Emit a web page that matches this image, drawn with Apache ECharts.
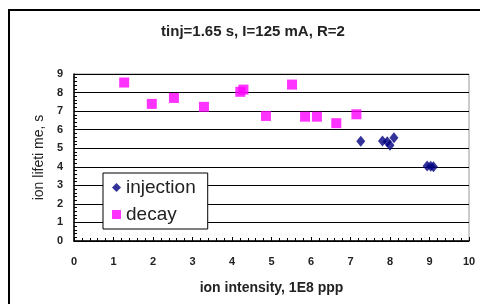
<!DOCTYPE html>
<html>
<head>
<meta charset="utf-8">
<script src="https://cdn.jsdelivr.net/npm/echarts@6/dist/echarts.min.js"></script>
<style>
  html, body { margin: 0; padding: 0; background: #fff; }
  #chart { width: 480px; height: 304px; }
</style>
</head>
<body>
<div id="chart"></div>
<script>
// values
var xTicks = [0, 1, 2, 3, 4, 5, 6, 7, 8, 9, 10]
var yTicks = [0, 1, 2, 3, 4, 5, 6, 7, 8, 9]

var injectionX = [7.26, 7.81, 7.93, 8.0, 8.1, 8.94, 9.03, 9.1]
var injectionY = [5.37, 5.39, 5.35, 5.16, 5.57, 4.04, 4.03, 4.0]

var decayX = [1.27, 1.97, 2.53, 3.29, 4.21, 4.29, 4.86, 5.52, 5.85, 6.15, 6.64, 7.15]
var decayY = [8.54, 7.39, 7.71, 7.23, 8.04, 8.16, 6.74, 8.43, 6.7, 6.7, 6.35, 6.83]

var zip = function (xs, ys) {
  return xs.map(function (x, i) { return [x, ys[i]] })
}

var myChart = echarts.init(document.getElementById('chart'))

var labelStyle = {
  fontFamily: 'Liberation Sans, Arial',
  fontSize: 11,
  fontWeight: 'bold',
  color: '#222'
}

var option = {
  animation: false,
  backgroundColor: '#fff',
  title: {
    text: 'tinj=1.65 s, I=125 mA, R=2',
    left: 248,
    top: 19,
    textAlign: 'center',
    textStyle: {
      fontFamily: 'Liberation Sans, Arial',
      fontSize: 15,
      fontWeight: 'bold',
      color: '#222'
    }
  },
  graphic: [
    {
      type: 'rect',
      shape: { x: 9, y: 10, width: 490, height: 310 },
      style: { fill: 'none', stroke: '#000', lineWidth: 2 },
      silent: true
    }
  ],
  grid: {
    left: 74,
    top: 74,
    width: 395,
    height: 167,
    show: true,
    borderColor: '#999',
    borderWidth: 1
  },
  legend: {
    orient: 'vertical',
    left: 103,
    top: 173,
    padding: [5, 12, 5, 9],
    itemGap: 8,
    itemWidth: 9,
    itemHeight: 9,
    backgroundColor: '#fff',
    borderColor: '#000',
    borderWidth: 1,
    textStyle: {
      fontFamily: 'Liberation Sans, Arial',
      fontSize: 19,
      color: '#222'
    },
    data: [
      { name: 'injection', icon: 'diamond' },
      { name: 'decay', icon: 'rect' }
    ]
  },
  xAxis: {
    type: 'value',
    min: 0,
    max: 10,
    interval: 1,
    name: 'ion intensity, 1E8 ppp',
    nameLocation: 'middle',
    nameGap: 40,
    nameTextStyle: Object.assign({}, labelStyle, { fontSize: 14 }),
    axisLine: { onZero: false, lineStyle: { color: '#000', width: 1.5 } },
    axisTick: { inside: true, length: 4, lineStyle: { color: '#000' } },
    minorTick: { show: true, splitNumber: 5, length: 3, lineStyle: { color: '#000' } },
    axisLabel: Object.assign({ margin: 15 }, labelStyle),
    splitLine: { show: false }
  },
  yAxis: {
    type: 'value',
    min: 0,
    max: 9,
    interval: 1,
    name: 'ion lifeti me, s',
    nameLocation: 'middle',
    nameGap: 27,
    nameTextStyle: Object.assign({}, labelStyle, { fontWeight: 'normal', fontSize: 14 }),
    axisLine: { onZero: false, lineStyle: { color: '#000', width: 1.5 } },
    axisTick: { inside: true, length: 4, lineStyle: { color: '#000' } },
    minorTick: { show: true, splitNumber: 5, length: 3, lineStyle: { color: '#000' } },
    axisLabel: Object.assign({ margin: 11 }, labelStyle),
    splitLine: { show: true, lineStyle: { color: '#000', width: 1 } }
  },
  series: [
    {
      name: 'injection',
      type: 'scatter',
      symbol: 'diamond',
      symbolSize: [9, 11],
      itemStyle: { color: '#000080' },
      data: zip(injectionX, injectionY)
    },
    {
      name: 'decay',
      type: 'scatter',
      symbol: 'rect',
      symbolSize: 10,
      itemStyle: { color: '#ff00ff' },
      data: zip(decayX, decayY)
    }
  ]
}

myChart.setOption(option)
</script>
</body>
</html>
